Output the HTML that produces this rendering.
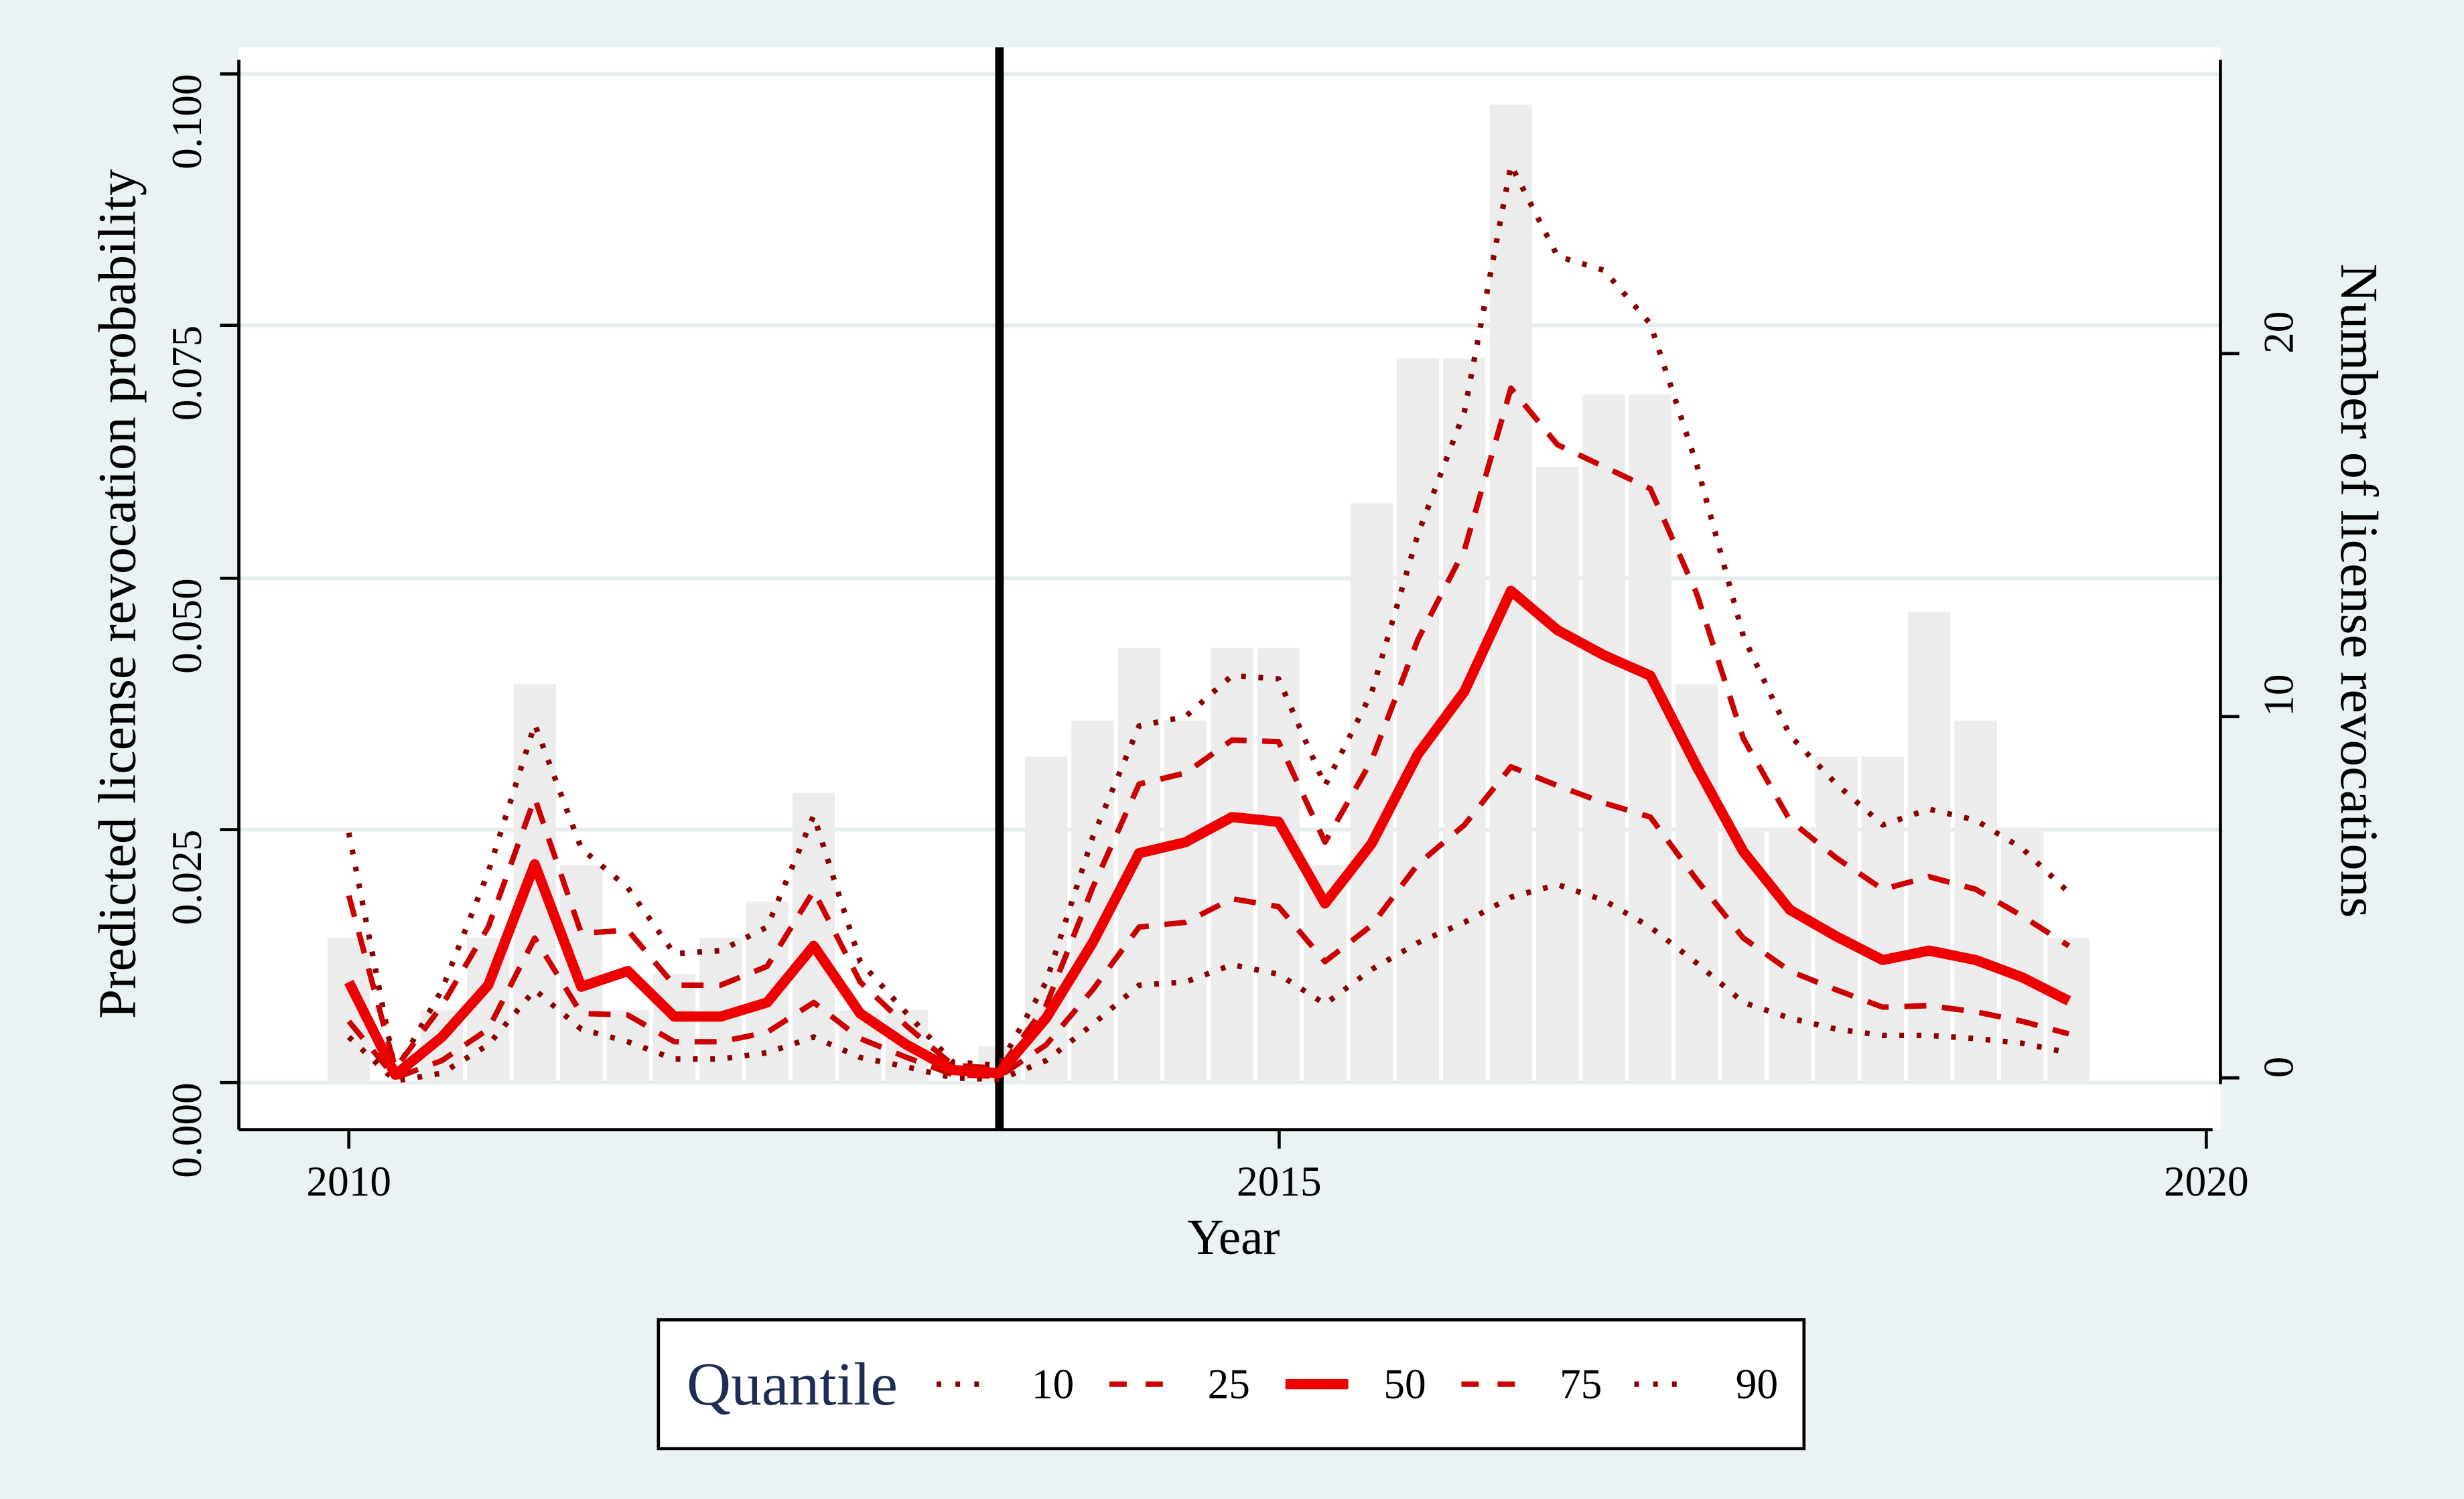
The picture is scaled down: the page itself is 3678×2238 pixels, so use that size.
<!DOCTYPE html>
<html><head><meta charset="utf-8"><style>
html,body{margin:0;padding:0;background:#eaf2f3;}
svg{display:block;}
text{font-family:"Liberation Serif",serif;}
</style></head><body>
<svg width="3678" height="2238" viewBox="0 0 1568 954" xmlns="http://www.w3.org/2000/svg">
<rect x="0" y="0" width="1568" height="954" fill="#eaf2f3"/>
<rect x="152" y="30" width="1261" height="689" fill="#ffffff"/>
<g stroke="#e4eeee" stroke-width="2.5">
<line x1="152" y1="689" x2="1413" y2="689"/><line x1="152" y1="528" x2="1413" y2="528"/>
<line x1="152" y1="368" x2="1413" y2="368"/><line x1="152" y1="207" x2="1413" y2="207"/>
<line x1="152" y1="47" x2="1413" y2="47"/>
</g>
<g fill="#ececec">
<rect x="208.5" y="596.8" width="27" height="92.2"/>
<rect x="267.7" y="642.9" width="27" height="46.1"/>
<rect x="297.2" y="596.8" width="27" height="92.2"/>
<rect x="326.8" y="435.4" width="27" height="253.6"/>
<rect x="356.4" y="550.7" width="27" height="138.3"/>
<rect x="386.0" y="642.9" width="27" height="46.1"/>
<rect x="415.6" y="619.8" width="27" height="69.2"/>
<rect x="445.1" y="596.8" width="27" height="92.2"/>
<rect x="474.7" y="573.7" width="27" height="115.3"/>
<rect x="504.3" y="504.6" width="27" height="184.4"/>
<rect x="533.9" y="642.9" width="27" height="46.1"/>
<rect x="563.5" y="642.9" width="27" height="46.1"/>
<rect x="622.6" y="665.9" width="27" height="23.1"/>
<rect x="652.2" y="481.5" width="27" height="207.5"/>
<rect x="681.8" y="458.5" width="27" height="230.5"/>
<rect x="711.4" y="412.4" width="27" height="276.6"/>
<rect x="740.9" y="458.5" width="27" height="230.5"/>
<rect x="770.5" y="412.4" width="27" height="276.6"/>
<rect x="800.1" y="412.4" width="27" height="276.6"/>
<rect x="829.7" y="550.7" width="27" height="138.3"/>
<rect x="859.3" y="320.2" width="27" height="368.8"/>
<rect x="888.8" y="228" width="27" height="461"/>
<rect x="918.4" y="228" width="27" height="461"/>
<rect x="948.0" y="66.6" width="27" height="622.4"/>
<rect x="977.6" y="297.1" width="27" height="391.9"/>
<rect x="1007.2" y="251" width="27" height="438"/>
<rect x="1036.7" y="251" width="27" height="438"/>
<rect x="1066.3" y="435.4" width="27" height="253.6"/>
<rect x="1095.9" y="527.6" width="27" height="161.4"/>
<rect x="1125.5" y="527.6" width="27" height="161.4"/>
<rect x="1155.1" y="481.5" width="27" height="207.5"/>
<rect x="1184.6" y="481.5" width="27" height="207.5"/>
<rect x="1214.2" y="389.3" width="27" height="299.7"/>
<rect x="1243.8" y="458.5" width="27" height="230.5"/>
<rect x="1273.4" y="527.6" width="27" height="161.4"/>
<rect x="1303.0" y="596.8" width="27" height="92.2"/>
</g>
<line x1="636" y1="30" x2="636" y2="719" stroke="#000" stroke-width="5.5"/>
<g fill="none" stroke-linejoin="round">
<polyline stroke="#8b0000" stroke-width="3.5" stroke-dasharray="3 8" points="222,660 251.6,688 281.2,683 310.7,665 340.3,630 369.9,655 399.5,663 429.1,674 458.6,674 488.2,670 517.8,660 547.4,673 577,679 606.5,686 636.1,687 665.7,675 695.3,652 724.9,627 754.4,625 784,614 813.6,620 843.2,639 872.8,617 902.3,600 931.9,587 961.5,571 991.1,563 1020.7,573 1050.2,590 1079.8,613 1109.4,638 1139,648 1168.6,655 1198.1,659 1227.7,659 1257.3,661 1286.9,664 1316.5,670"/>
<polyline stroke="#8b0000" stroke-width="3.5" stroke-dasharray="3 8" points="222,530 251.6,682 281.2,630 310.7,555 340.3,461 369.9,540 399.5,565 429.1,607 458.6,605 488.2,590 517.8,519 547.4,612 577,645 606.5,676 636.1,678 665.7,625 695.3,533 724.9,462 754.4,456 784,430 813.6,432 843.2,500 872.8,441 902.3,340 931.9,262 961.5,105 991.1,163 1020.7,172 1050.2,206 1079.8,296 1109.4,405 1139,468 1168.6,499 1198.1,525 1227.7,515 1257.3,522 1286.9,540 1316.5,568"/>
<polyline stroke="#cc0000" stroke-width="3.5" stroke-dasharray="14 10" points="222,650 251.6,686 281.2,675 310.7,655 340.3,597 369.9,645 399.5,646 429.1,663 458.6,663 488.2,657 517.8,638 547.4,661 577,673 606.5,684 636.1,685 665.7,665 695.3,630 724.9,590 754.4,587 784,572 813.6,577 843.2,612 872.8,589 902.3,550 931.9,525 961.5,488 991.1,500 1020.7,511 1050.2,520 1079.8,560 1109.4,597 1139,618 1168.6,630 1198.1,641 1227.7,640 1257.3,644 1286.9,650 1316.5,658"/>
<polyline stroke="#cc0000" stroke-width="3.5" stroke-dasharray="14 10" points="222,570 251.6,680 281.2,640 310.7,590 340.3,508 369.9,594 399.5,592 429.1,627 458.6,627 488.2,615 517.8,567 547.4,625 577,653 606.5,678 636.1,680 665.7,640 695.3,565 724.9,499 754.4,492 784,471 813.6,472 843.2,536 872.8,484 902.3,407 931.9,350 961.5,247 991.1,283 1020.7,297 1050.2,311 1079.8,378 1109.4,470 1139,522 1168.6,546 1198.1,566 1227.7,558 1257.3,566 1286.9,583 1316.5,602"/>
<polyline stroke="#ee0000" stroke-width="6.5" points="222,625 251.6,684 281.2,660 310.7,627 340.3,550 369.9,628 399.5,618 429.1,647 458.6,647 488.2,638 517.8,602 547.4,645 577,665 606.5,681 636.1,683 665.7,648 695.3,600 724.9,543 754.4,536 784,520 813.6,523 843.2,575 872.8,537 902.3,480 931.9,440 961.5,376 991.1,401 1020.7,417 1050.2,430 1079.8,488 1109.4,542 1139,579 1168.6,596 1198.1,611 1227.7,605 1257.3,611 1286.9,622 1316.5,637"/>
</g>
<g stroke="#000" stroke-width="2">
<line x1="152" y1="38" x2="152" y2="719"/>
<line x1="152" y1="719" x2="1408" y2="719"/>
<line x1="1413" y1="38" x2="1413" y2="690"/>
<line x1="140" y1="689" x2="152" y2="689"/><line x1="140" y1="528" x2="152" y2="528"/>
<line x1="140" y1="368" x2="152" y2="368"/><line x1="140" y1="207" x2="152" y2="207"/>
<line x1="140" y1="47" x2="152" y2="47"/>
<line x1="1413" y1="686" x2="1425" y2="686"/><line x1="1413" y1="456" x2="1425" y2="456"/><line x1="1413" y1="225" x2="1425" y2="225"/>
<line x1="222" y1="719" x2="222" y2="731"/><line x1="814" y1="719" x2="814" y2="731"/><line x1="1404" y1="719" x2="1404" y2="731"/>
</g>
<g font-size="27" fill="#000" text-anchor="end">
<text transform="translate(128,689) rotate(-90)">0.000</text>
<text transform="translate(128,528) rotate(-90)">0.025</text>
<text transform="translate(128,368) rotate(-90)">0.050</text>
<text transform="translate(128,207) rotate(-90)">0.075</text>
<text transform="translate(128,47) rotate(-90)">0.100</text>
</g>
<g font-size="27" fill="#000" text-anchor="start">
<text transform="translate(1459,686) rotate(-90)">0</text>
<text transform="translate(1459,456) rotate(-90)">10</text>
<text transform="translate(1459,225) rotate(-90)">20</text>
</g>
<g font-size="27" fill="#000" text-anchor="middle">
<text x="222" y="761">2010</text><text x="814" y="761">2015</text><text x="1404" y="761">2020</text>
</g>
<text x="785" y="798" font-size="32" fill="#000" text-anchor="middle">Year</text>
<g font-size="34" fill="#000" text-anchor="middle">
<text transform="translate(86,378) rotate(-90)">Predicted license revocation probability</text>
<text transform="translate(1490,376) rotate(90)">Number of license revocations</text>
</g>
<rect x="419" y="840" width="729" height="82" fill="#fff" stroke="#000" stroke-width="2"/>
<text x="437" y="894" font-size="39" fill="#1f2d55">Quantile</text>
<g stroke-width="3.5">
<line x1="596" y1="881" x2="626" y2="881" stroke="#8b0000" stroke-dasharray="3 9"/>
<line x1="706" y1="881" x2="740" y2="881" stroke="#cc0000" stroke-dasharray="11 12"/>
<line x1="818" y1="881" x2="858" y2="881" stroke="#ee0000" stroke-width="6.5"/>
<line x1="930" y1="881" x2="964" y2="881" stroke="#cc0000" stroke-dasharray="11 12"/>
<line x1="1040" y1="881" x2="1070" y2="881" stroke="#8b0000" stroke-dasharray="3 9"/>
</g>
<g font-size="27" fill="#000" text-anchor="middle">
<text x="670" y="890">10</text><text x="782" y="890">25</text><text x="894" y="890">50</text><text x="1006" y="890">75</text><text x="1118" y="890">90</text>
</g>
</svg>
</body></html>
